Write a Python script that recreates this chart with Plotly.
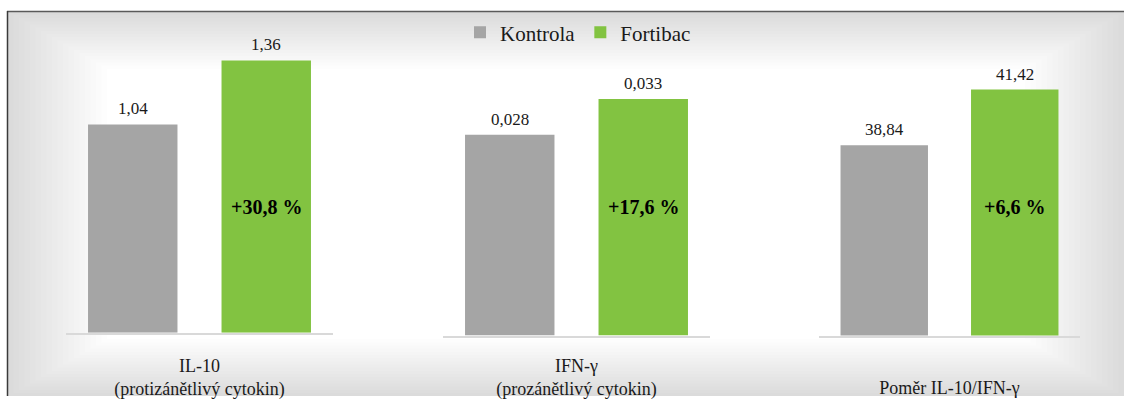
import plotly.graph_objects as go

# ---- data ----
categories = ["IL-10<br>(protizánětlivý cytokin)", "IFN-γ<br>(prozánětlivý cytokin)", "Poměr IL-10/IFN-γ"]
series_names = ["Kontrola", "Fortibac"]
kontrola = [1.04, 0.028, 38.84]
fortibac = [1.36, 0.033, 41.42]
decimals = [2, 3, 2]
change_labels = ["+30,8 %", "+17,6 %", "+6,6 %"]

GREY = "#A5A5A5"
GREEN = "#82C341"
FONT = "Liberation Serif"
W, H = 1124, 400


def px_x(x):
    return x / W


def px_y(y):
    return 1 - y / H


def fmt(v, d):
    return f"{v:.{d}f}".replace(".", ",")


# panel geometry (screen pixels)
x_domains = [(66, 333), (443, 710), (819, 1080)]
base_px = [336, 339, 339]
top_px = 40
y_ranges = [[0, 1.464], [0, 0.04127], [30, 43.74]]
standoffs = [16, 13, 35]

fig = go.Figure()

for i, cat in enumerate(categories):
    xa = "x" if i == 0 else f"x{i+1}"
    ya = "y" if i == 0 else f"y{i+1}"
    for name, vals, col in [("Kontrola", kontrola, GREY), ("Fortibac", fortibac, GREEN)]:
        fig.add_trace(go.Bar(
            x=[cat], y=[vals[i]], name=name, marker=dict(color=col, line=dict(width=0)),
            xaxis=xa, yaxis=ya, showlegend=(i == 0), legendgroup=name,
            offsetgroup=name,
        ))

layout_axes = {}
annotations = []
for i in range(3):
    xk = "xaxis" if i == 0 else f"xaxis{i+1}"
    yk = "yaxis" if i == 0 else f"yaxis{i+1}"
    ya = "y" if i == 0 else f"y{i+1}"
    xa = "x" if i == 0 else f"x{i+1}"
    x0, x1 = x_domains[i]
    layout_axes[xk] = dict(
        domain=[px_x(x0), px_x(x1)], anchor=ya, showline=True, linecolor="#D9D9D9",
        linewidth=1.5, ticks="", showgrid=False, zeroline=False, fixedrange=True,
        tickfont=dict(family=FONT, size=18, color="#1a1a1a"),
        ticklabelstandoff=standoffs[i],
    )
    layout_axes[yk] = dict(
        domain=[px_y(base_px[i]), px_y(top_px)], anchor=xa, range=y_ranges[i],
        visible=False, fixedrange=True,
    )
    half_slot = (x1 - x0) / 4
    for vals, shift in [(kontrola, -half_slot), (fortibac, half_slot)]:
        annotations.append(dict(
            x=categories[i], y=vals[i], xref=xa, yref=ya, xshift=shift, yshift=4,
            yanchor="bottom", showarrow=False, text=fmt(vals[i], decimals[i]),
            font=dict(family=FONT, size=17, color="#1a1a1a"),
        ))
    annotations.append(dict(
        x=categories[i], y=px_y(209), xref=xa, yref="paper", xshift=half_slot,
        yanchor="middle", showarrow=False, text="<b>" + change_labels[i] + "</b>",
        font=dict(family=FONT, size=20, color="#000000"),
    ))

# background: grey edge bands (even-odd frames) fading to a white centre
shapes = []
ox0, oy0, ox1, oy1 = px_x(8), px_y(400), px_x(1124), px_y(12)
n = 18
for k in range(1, n + 1):
    dx, dy = 5.5 * k, 3.2 * k
    ix0, ix1 = px_x(8 + dx), px_x(1124 - dx)
    iy0, iy1 = px_y(400 - dy), px_y(12 + dy)
    path = (f"M{ox0},{oy0} L{ox1},{oy0} L{ox1},{oy1} L{ox0},{oy1} Z "
            f"M{ix0},{iy0} L{ix1},{iy0} L{ix1},{iy1} L{ix0},{iy1} Z")
    shapes.append(dict(type="path", path=path, xref="paper", yref="paper", layer="below",
                       fillrule="evenodd", fillcolor="rgba(0,0,0,0.0085)", line=dict(width=0)))
# border lines (top and left)
shapes.append(dict(type="line", xref="paper", yref="paper", x0=px_x(7), x1=1, y0=px_y(11.5), y1=px_y(11.5),
                   line=dict(color="#5A5A5A", width=1.5)))
shapes.append(dict(type="line", xref="paper", yref="paper", x0=px_x(7.5), x1=px_x(7.5), y0=0, y1=px_y(11),
                   line=dict(color="#3A3A3A", width=1.5)))

fig.update_layout(
    margin=dict(l=0, r=0, t=0, b=0),
    paper_bgcolor="white", plot_bgcolor="rgba(0,0,0,0)",
    barmode="group", bargap=0, bargroupgap=0.33,
    showlegend=True,
    legend=dict(orientation="h", x=px_x(578), xanchor="center", y=px_y(33), yanchor="middle",
                font=dict(family=FONT, size=21, color="#1a1a1a"), bgcolor="rgba(0,0,0,0)",
                traceorder="normal", itemwidth=30),
    annotations=annotations, shapes=shapes,
    **layout_axes,
)

# the div starts small enough to never overflow the page; it is then resized to the
# full 1124x400 window once the default body margin is removed
post = (
    "document.body.style.margin='0px';document.body.style.overflow='hidden';"
    "var gd=document.getElementById('{plot_id}');"
    f"gd.style.width='{W}px';gd.style.height='{H}px';"
    f"Plotly.relayout(gd,{{width:{W},height:{H}}});"
)
fig.write_html(
    "out.html",
    config={"displayModeBar": False},
    default_width=f"{W - 16}px",
    default_height=f"{H - 16}px",
    post_script=post,
)
